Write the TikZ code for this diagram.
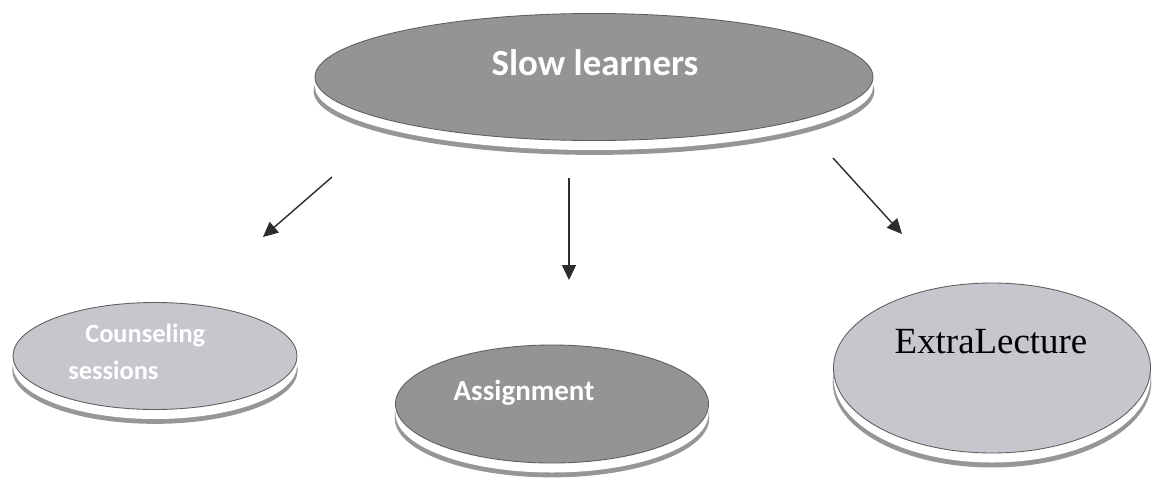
\documentclass[tikz,border=0pt]{standalone}
\usepackage{fontspec}
\setmainfont{Liberation Serif}
\newfontfamily\calibfont{Carlito}
\usepackage{tikz}
\usetikzlibrary{shapes.geometric, arrows.meta, shadows}
\definecolor{slowgray}{RGB}{148,148,150}
\definecolor{paleblob}{RGB}{198,198,204}
\definecolor{blobedge}{RGB}{95,95,95}
\definecolor{blobrim}{RGB}{150,150,150}
\definecolor{arrowgray}{RGB}{45,45,45}

\begin{document}
\begin{tikzpicture}[x=0.2mm, y=-0.2mm,
  blob/.style={ellipse, draw=blobedge, line width=0.5pt, inner sep=0pt,
    general shadow={fill=blobrim, shadow yshift=-2.8mm, shadow scale=1.005},
    general shadow={fill=white, shadow yshift=-1.9mm}},
  txt/.style={font=\calibfont\bfseries\fontsize{21}{24}\selectfont, text=white, inner sep=0pt},
  arr/.style={-{Triangle[length=3mm, width=2.8mm]}, line width=0.8pt, draw=arrowgray}]
  \useasboundingbox (0,0) rectangle (1156,484);
  % ellipses
  \node[blob, fill=slowgray, minimum width=111.6mm, minimum height=25.4mm] (slow) at (594,77) {};
  \node[blob, fill=paleblob, minimum width=56.8mm, minimum height=21.4mm] (counsel) at (155,356) {};
  \node[blob, fill=slowgray, minimum width=62.6mm, minimum height=23.6mm] (assign) at (552,404) {};
  \node[blob, fill=paleblob, minimum width=63.4mm, minimum height=34mm] (extra) at (992,368) {};
  % texts
  \node[txt] (slowtxt) at (595,63) {Slow learners};
  \node[txt, font=\calibfont\bfseries\fontsize{15}{21}\selectfont, align=left, anchor=west] (counseltxt) at (68,352) {\hspace*{3.4mm}Counseling\\sessions};
  \node[txt, font=\calibfont\bfseries\fontsize{16.5}{20}\selectfont] (assigntxt) at (524,393) {Assignment};
  \node[font=\fontsize{21}{24}\selectfont, inner sep=0pt] (extratxt) at (991,342) {ExtraLecture};
  % arrows
  \coordinate (a1) at (332,177);
  \coordinate (b1) at (263,237);
  \coordinate (a2) at (569,178);
  \coordinate (b2) at (569,280);
  \coordinate (a3) at (833,158);
  \coordinate (b3) at (902,234);
  \draw[arr] (a1) -- (b1);
  \draw[arr] (a2) -- (b2);
  \draw[arr] (a3) -- (b3);
\end{tikzpicture}
\end{document}
